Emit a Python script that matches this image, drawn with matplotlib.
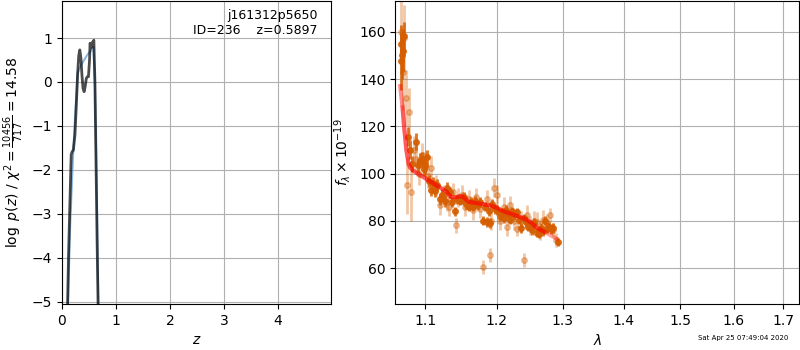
#!/usr/bin/env python3
"""
Redshift fit summary: log p(z) on the left, 1D spectrum with model on the right
"""

import matplotlib
matplotlib.use('Agg')
import matplotlib.pyplot as plt
import numpy as np
from matplotlib.ticker import FixedLocator, FormatStrFormatter, NullLocator

plt.rcParams['font.family'] = 'DejaVu Sans'

# p(z) curves
z_prior = [0.08, 0.15, 0.20, 0.25, 0.29, 0.33, 0.37, 0.41, 0.45, 0.49, 0.53, 0.56, 0.58, 0.61, 0.64, 0.67, 0.70]
lnp_prior = [-6.5, -3.3, -1.8, -0.6, 0.2, 0.33, 0.42, 0.5, 0.58, 0.65, 0.7, 0.76, 0.8, 0.0, -2.2, -4.8, -6.5]

z_grid = [0.08, 0.12, 0.17, 0.19, 0.21, 0.24, 0.27, 0.29, 0.31, 0.33, 0.35, 0.37, 0.39, 0.41,
          0.43, 0.45, 0.47, 0.49, 0.51, 0.52, 0.54, 0.56, 0.58, 0.59, 0.61, 0.63, 0.65, 0.67, 0.69]
lnp_grid = [-6.5, -4.0, -1.65, -1.58, -1.55, -1.2, -0.4, 0.2, 0.6, 0.73, 0.55, 0.15, -0.15, -0.22,
            -0.1, 0.08, 0.12, 0.12, 0.5, 0.88, 0.78, 0.9, 0.92, 0.95, 0.0, -1.8, -3.6, -5.2, -6.5]

# spectrum: strong points
wave_dark = [1.0675, 1.0685, 1.0695, 1.0705, 1.0715, 1.0775, 1.0800, 1.0820, 1.0870, 1.0900,
             1.0930, 1.0950, 1.0980, 1.1000, 1.1020, 1.1050, 1.1080, 1.1100, 1.1130, 1.1160,
             1.1200, 1.1230, 1.1260, 1.1300, 1.1330, 1.1360, 1.1400, 1.1430, 1.1470, 1.1500,
             1.1530, 1.1560, 1.1600, 1.1630, 1.1650, 1.1680, 1.1700, 1.1730, 1.1760, 1.1800,
             1.1830, 1.1850, 1.1880, 1.1900, 1.1930, 1.1970, 1.2000, 1.2040, 1.2080, 1.2100,
             1.2130, 1.2170, 1.2200, 1.2230, 1.2260, 1.2300, 1.2330, 1.2360, 1.2400, 1.2430,
             1.2460, 1.2500, 1.2530, 1.2560, 1.2600, 1.2630, 1.2660, 1.2700, 1.2730, 1.2760,
             1.2790, 1.2820, 1.2850, 1.2930]
flux_dark = [147.5, 155.0, 150.0, 152.0, 158.0, 115.5, 110.0, 104.0, 113.5, 103.5,
             105.5, 106.0, 102.0, 103.0, 107.0, 97.0, 93.0, 96.0, 92.5, 95.0,
             89.0, 91.0, 88.5, 94.0, 92.0, 88.0, 84.0, 89.0, 88.5, 89.0,
             90.0, 87.0, 86.0, 88.0, 86.0, 88.5, 87.5, 86.5, 88.0, 80.0,
             86.0, 79.5, 84.0, 79.0, 87.0, 85.0, 84.5, 82.0, 83.5, 81.0,
             84.5, 83.0, 80.5, 84.0, 82.5, 83.5, 80.5, 77.0, 81.0, 79.5,
             77.5, 78.0, 76.0, 79.0, 75.0, 74.5, 77.0, 75.5, 80.0, 77.0,
             77.5, 76.5, 77.0, 71.0]
err_dark = [12.0, 8.0, 10.0, 9.0, 6.0, 4.0, 4.0, 3.5, 3.5, 3.0,
            3.0, 3.0, 3.0, 3.0, 3.0, 2.5, 2.5, 2.5, 2.5, 2.5,
            2.5, 2.5, 2.5, 2.5, 2.5, 2.0, 2.0, 2.0, 2.0, 2.0,
            2.0, 2.0, 2.0, 2.0, 2.0, 2.0, 2.0, 2.0, 2.0, 2.0,
            2.0, 2.0, 2.0, 2.0, 2.0, 2.0, 2.0, 2.0, 2.0, 2.0,
            2.0, 2.0, 2.0, 2.0, 2.0, 2.0, 2.0, 2.0, 2.0, 2.0,
            2.0, 2.0, 2.0, 2.0, 2.0, 2.0, 2.0, 2.0, 2.0, 2.0,
            2.0, 2.0, 2.0, 1.8]

# spectrum: weak points
wave_light = [1.0680, 1.0700, 1.0720, 1.0745, 1.0760, 1.0790, 1.0810, 1.0850, 1.0880, 1.0920,
              1.0960, 1.1000, 1.1040, 1.1080, 1.1140, 1.1200, 1.1250, 1.1290, 1.1320, 1.1380,
              1.1420, 1.1450, 1.1500, 1.1550, 1.1600, 1.1650, 1.1700, 1.1750, 1.1800, 1.1850,
              1.1900, 1.1920, 1.1960, 1.2000, 1.2050, 1.2100, 1.2150, 1.2200, 1.2250, 1.2300,
              1.2350, 1.2400, 1.2450, 1.2500, 1.2550, 1.2600, 1.2650, 1.2700, 1.2750, 1.2800,
              1.2850, 1.2900]
flux_light = [160.0, 143.0, 157.5, 132.0, 95.0, 126.0, 92.0, 110.0, 106.0, 100.0,
              108.0, 104.0, 99.0, 102.5, 95.0, 86.5, 91.0, 88.0, 86.0, 92.0,
              78.0, 90.0, 91.0, 86.0, 89.0, 84.5, 90.0, 85.0, 60.5, 89.0,
              65.5, 80.0, 94.0, 91.0, 80.0, 86.0, 77.5, 86.5, 80.0, 76.5,
              80.0, 63.5, 82.5, 78.0, 80.0, 79.5, 76.0, 80.5, 79.0, 82.5,
              76.0, 72.0]
err_light = [18.0, 16.0, 14.0, 12.0, 12.0, 10.0, 12.0, 6.0, 6.0, 5.0,
             5.0, 5.0, 5.0, 5.0, 4.5, 4.0, 4.0, 4.0, 4.0, 4.0,
             3.0, 4.0, 4.0, 4.0, 4.0, 4.0, 4.0, 4.0, 3.0, 4.0,
             3.0, 4.0, 4.0, 4.0, 4.0, 4.0, 4.0, 4.0, 4.0, 3.0,
             4.0, 3.0, 4.0, 4.0, 4.0, 4.0, 4.0, 4.0, 4.0, 3.0,
             3.0, 3.0]

# best-fit model (two beams)
wave_model = [1.067, 1.070, 1.072, 1.075, 1.078, 1.080, 1.085, 1.090, 1.100, 1.110, 1.120,
              1.128, 1.135, 1.142, 1.150, 1.160, 1.170, 1.180, 1.190, 1.200, 1.210, 1.220,
              1.230, 1.240, 1.250, 1.260, 1.270, 1.280, 1.290]
flux_model = [137.0, 128.0, 120.0, 110.0, 104.0, 102.5, 101.0, 100.0, 98.0, 96.0, 94.0,
              92.5, 90.0, 90.0, 90.5, 88.0, 87.5, 87.0, 86.5, 85.5, 84.0, 83.0,
              82.0, 81.0, 79.5, 77.0, 75.5, 74.0, 72.5]
n_beam1 = 27   # first beam stops at 1.27

fig = plt.figure(figsize=(8, 3.5), dpi=100)

# left: log p(z)
ax1 = fig.add_axes([0.0775, 0.131, 0.336, 0.866])
ax1.plot(z_prior, lnp_prior, color='#5b9bd5', alpha=0.7, lw=1.5)
ax1.plot(z_grid, lnp_grid, color='black', alpha=0.7, lw=2)
ax1.set_xlim(0, 4.98)
ax1.set_ylim(-5.05, 1.84)
ax1.set_xticks([0, 1, 2, 3, 4])
ax1.set_yticks([-5, -4, -3, -2, -1, 0, 1])
ax1.grid(True)
ax1.set_xlabel(r'$z$')
ax1.set_ylabel(r'$\log\ p(z)$ / $\chi^2=\frac{10456}{717}=14.58$')
ax1.text(0.95, 0.975, 'j161312p5650\nID=236    z=0.5897', transform=ax1.transAxes,
         ha='right', va='top', fontsize=9)

# right: spectrum
ax2 = fig.add_axes([0.494, 0.131, 0.505, 0.866])
orange = '#d55e00'
ax2.errorbar(wave_light, flux_light, yerr=err_light, fmt='o', color=orange, alpha=0.35,
             ms=4, elinewidth=2, zorder=2)
ax2.errorbar(wave_dark, flux_dark, yerr=err_dark, fmt='o', color=orange, alpha=0.85,
             ms=4, elinewidth=2, zorder=3)
ax2.plot(wave_model[:n_beam1], flux_model[:n_beam1], color='red', alpha=0.45, lw=3, zorder=4)
ax2.plot(wave_model[1:], flux_model[1:], color='red', alpha=0.35, lw=3, zorder=4)
ax2.set_xscale('log')
ax2.set_xlim(1.0605, 1.733)
ax2.set_ylim(44.7, 173)
ax2.xaxis.set_major_locator(FixedLocator([1.1, 1.2, 1.3, 1.4, 1.5, 1.6, 1.7]))
ax2.xaxis.set_major_formatter(FormatStrFormatter('%.1f'))
ax2.xaxis.set_minor_locator(NullLocator())
ax2.grid(True)
ax2.set_xlabel(r'$\lambda$')
ax2.set_ylabel(r'$f_\lambda \times 10^{-19}$')

fig.text(0.985, 0.025, 'Sat Apr 25 07:49:04 2020', ha='right', va='bottom', fontsize=5)

fig.savefig('out.png', dpi=100)
